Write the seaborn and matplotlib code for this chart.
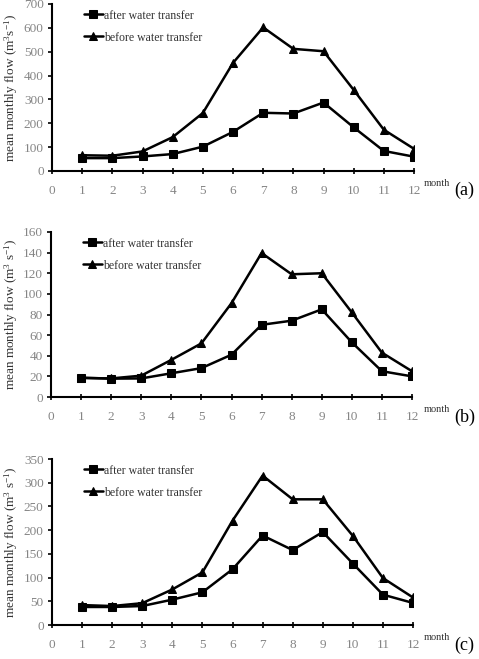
import matplotlib
matplotlib.use("Agg")
import matplotlib.pyplot as plt
import seaborn as sns
import pandas as pd

months = list(range(1, 13))

after_a = [54, 54, 61, 71, 102, 164, 244, 241, 287, 183, 84, 60]
before_a = [66, 64, 82, 142, 243, 453, 602, 512, 502, 340, 173, 93]

after_b = [18.7, 17.8, 18, 23, 28, 41, 70, 74, 85, 53, 25, 20]
before_b = [18.5, 18, 20.7, 36, 52, 91, 139.6, 119, 120, 82, 43, 25]

after_c = [38, 38, 40, 53.5, 69, 117.5, 188.7, 158, 196, 129.6, 64, 46.5]
before_c = [42, 40, 46, 75, 111, 220, 315, 265, 265, 188, 99, 58]

panels = [
    ("(a)", after_a, before_a, 700, 100, r"mean monthly flow (m$^3$s$^{-1}$)"),
    ("(b)", after_b, before_b, 160, 20, r"mean monthly flow (m$^3$ s$^{-1}$)"),
    ("(c)", after_c, before_c, 350, 50, r"mean monthly flow (m$^3$ s$^{-1}$)"),
]

sns.set_theme(style="white")
plt.rcParams["font.family"] = ["Liberation Serif", "DejaVu Serif"]
plt.rcParams["mathtext.fontset"] = "custom"
plt.rcParams["mathtext.rm"] = "Liberation Serif"
plt.rcParams["mathtext.default"] = "regular"

W, H = 479, 659
fig = plt.figure(figsize=(W / 100, H / 100), dpi=100)

# axes boxes in pixel coords: left, right, y_bottom(0), y_top(max)
boxes = [(52, 414, 171, 4), (51, 412, 397, 232), (52, 413, 625, 459)]
label_y = [190, 417, 645]

for (tag, aft, bef, ymax, ystep, ylab), (l, r, yb, yt), ly in zip(panels, boxes, label_y):
    ax = fig.add_axes([l / W, 1 - yb / H, (r - l) / W, (yb - yt) / H])
    df = pd.DataFrame({"month": months, "after": aft, "before": bef})
    sns.lineplot(data=df, x="month", y="after", ax=ax, color="black", marker="s",
                 markersize=6, markeredgecolor="black", linewidth=1.8,
                 label="after water transfer")
    sns.lineplot(data=df, x="month", y="before", ax=ax, color="black", marker="^",
                 markersize=6, markeredgecolor="black", linewidth=1.8,
                 label="before water transfer")
    ax.set_xlim(0, 12)
    ax.set_ylim(0, ymax)
    ax.set_xticks(range(0, 13))
    ax.set_yticks(range(0, ymax + 1, ystep))
    ax.set_xlabel("")
    ax.set_ylabel("")
    fig.text(11 / W, 1 - ((yb + yt) / 2) / H, ylab, rotation=90, fontsize=9.5,
             ha="center", va="center", color="#333333")
    for s in ["top", "right"]:
        ax.spines[s].set_visible(False)
    for s in ["left", "bottom"]:
        ax.spines[s].set_color("black")
        ax.spines[s].set_linewidth(1.5)
    ax.tick_params(axis="x", direction="inout", length=4, width=1.2, pad=8,
                   labelsize=9.5, labelcolor="#858585", color="black", bottom=True)
    ax.tick_params(axis="y", direction="out", length=3, width=1.2, pad=3,
                   labelsize=9.5, labelcolor="#858585", color="black", left=True)
    ax.set_facecolor("white")
    ax.grid(False)
    leg = ax.legend(loc="upper left", bbox_to_anchor=(0.075, 0.995), frameon=False,
                    fontsize=8.5, handlelength=1.6, handletextpad=0.1, labelspacing=0.85,
                    borderaxespad=0)
    for t in leg.get_texts():
        t.set_color("#333333")
    fig.text(424 / W, 1 - (ly - 7) / H, "month", fontsize=7.5, ha="left", va="center",
             color="#333333")
    fig.text(454 / W, 1 - ly / H, tag, fontsize=13, ha="left", va="center", color="black")

fig.savefig("out.png", dpi=100, facecolor="white")
